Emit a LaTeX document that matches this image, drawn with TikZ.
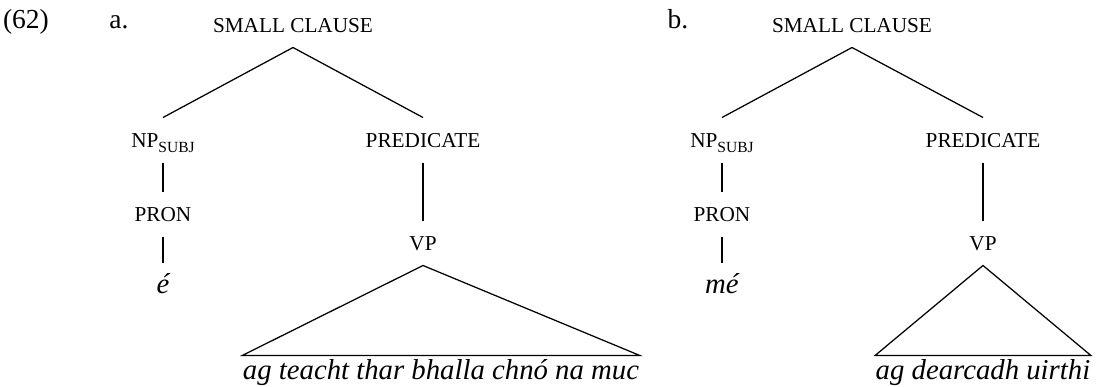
\documentclass[tikz,border=0pt]{standalone}
\usepackage{fontspec}
\setmainfont{Liberation Serif}
\newcommand\fsc[1]{{\fontsize{8.5}{10}\selectfont\uppercase{#1}}}
\newcommand\fsub[1]{\raisebox{-2pt}{\fontsize{6.2}{7}\selectfont\uppercase{#1}}}
\begin{document}
\begin{tikzpicture}[x=0.4pt,y=-0.4pt,
  every node/.style={font=\fontsize{11}{13}\selectfont},
  plain/.style={inner sep=0pt, text height=7pt, text depth=2pt},
  lab/.style={inner xsep=0pt, inner ysep=6pt, text height=5.6pt, text depth=0pt},
  word/.style={font=\fontsize{11.5}{13}\selectfont\itshape, inner xsep=0pt, inner ysep=4pt, anchor=base},
  phrase/.style={font=\fontsize{11.5}{13}\selectfont\itshape, inner xsep=0pt, inner ysep=2pt, text height=7.5pt, text depth=2.2pt},
  edge/.style={line width=0.5pt}]
\useasboundingbox (0,0) rectangle (1116,387);
% (a)
\node[plain] (ex) at (26,22) {(62)};
\node[plain] (la) at (119,22) {a.};
\node[lab] (a0) at (293,25) {\fsc{small clause}};
\node[lab] (a1) at (163,140) {\fsc{np}\fsub{subj}};
\node[lab] (a2) at (423,140) {\fsc{predicate}};
\node[lab] (a3) at (163,214) {\fsc{pron}};
\node[word] (a4) at (163,293) {é};
\node[lab] (a5) at (423,243) {\fsc{vp}};
\node[phrase] (a6) at (441,373) {ag teacht thar bhalla chnó na muc};
\draw[edge] (a0.south) -- (a1.north);
\draw[edge] (a0.south) -- (a2.north);
\draw[edge] (a1.south) -- (a3.north);
\draw[edge] (a3.south) -- (a4.north);
\draw[edge] (a2.south) -- (a5.north);
\draw[edge] (a5.south) -- (a6.north west) -- (a6.north east) -- cycle;
% (b)
\node[plain] (lb) at (678,22) {b.};
\node[lab] (b0) at (852,25) {\fsc{small clause}};
\node[lab] (b1) at (722,140) {\fsc{np}\fsub{subj}};
\node[lab] (b2) at (983,140) {\fsc{predicate}};
\node[lab] (b3) at (722,214) {\fsc{pron}};
\node[word] (b4) at (722,293) {mé};
\node[lab] (b5) at (983,243) {\fsc{vp}};
\node[phrase] (b6) at (983,373) {ag dearcadh uirthi};
\draw[edge] (b0.south) -- (b1.north);
\draw[edge] (b0.south) -- (b2.north);
\draw[edge] (b1.south) -- (b3.north);
\draw[edge] (b3.south) -- (b4.north);
\draw[edge] (b2.south) -- (b5.north);
\draw[edge] (b5.south) -- (b6.north west) -- (b6.north east) -- cycle;
\end{tikzpicture}
\end{document}
